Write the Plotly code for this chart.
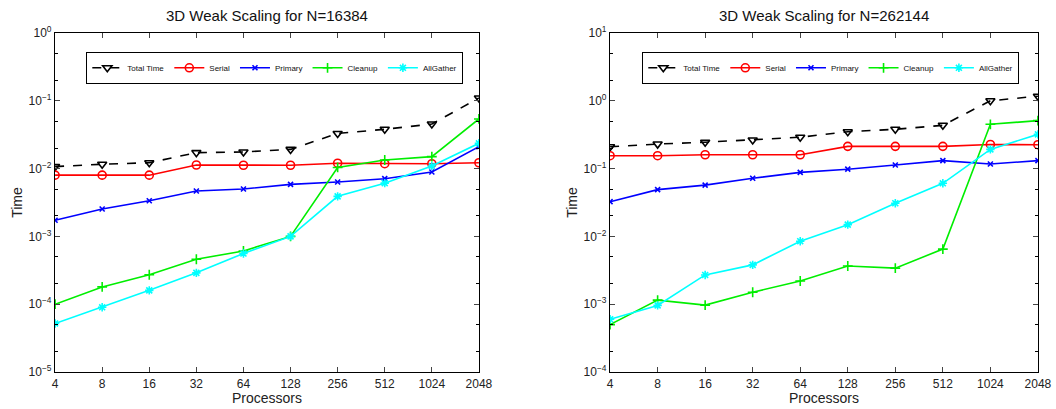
import plotly.graph_objects as go

procs = [4, 8, 16, 32, 64, 128, 256, 512, 1024, 2048]
series_names = ["Total Time", "Serial", "Primary", "Cleanup", "AllGather"]

# N=16384
left_total = [0.0107, 0.0116, 0.0122, 0.0172, 0.0176, 0.0192, 0.033, 0.038, 0.0455, 0.11]
left_serial = [0.0080, 0.0080, 0.0080, 0.0113, 0.0112, 0.0112, 0.0120, 0.0118, 0.0118, 0.0122]
left_primary = [0.00173, 0.00254, 0.00336, 0.00468, 0.0050, 0.00586, 0.00634, 0.0071, 0.0089, 0.021]
left_cleanup = [1.0e-4, 1.8e-4, 2.72e-4, 4.6e-4, 6.1e-4, 1.0e-3, 0.0104, 0.0134, 0.015, 0.054]
left_allgather = [5.2e-5, 9.0e-5, 1.6e-4, 2.9e-4, 5.6e-4, 1.0e-3, 0.0039, 0.0061, 0.0109, 0.0236]

# N=262144
right_total = [0.21, 0.23, 0.245, 0.264, 0.29, 0.35, 0.38, 0.435, 1.0, 1.17]
right_serial = [0.155, 0.155, 0.16, 0.16, 0.16, 0.213, 0.213, 0.213, 0.227, 0.225]
right_primary = [0.0325, 0.049, 0.057, 0.072, 0.088, 0.098, 0.113, 0.131, 0.117, 0.131]
right_cleanup = [5.0e-4, 1.15e-3, 9.7e-4, 1.5e-3, 2.2e-3, 3.66e-3, 3.4e-3, 6.5e-3, 0.45, 0.51]
right_allgather = [6.0e-4, 9.6e-4, 2.7e-3, 3.8e-3, 8.5e-3, 0.0149, 0.0308, 0.0607, 0.192, 0.32]

titles = ["3D Weak Scaling for N=16384", "3D Weak Scaling for N=262144"]
left_decades = [-5, -4, -3, -2, -1, 0]
right_decades = [-4, -3, -2, -1, 0, 1]

styles = [
    dict(color="#000000", dash="dash", symbol="triangle-down-open", size=8),
    dict(color="#ff0000", dash="solid", symbol="circle-open", size=8),
    dict(color="#0000ff", dash="solid", symbol="x-thin", size=5),
    dict(color="#00ee00", dash="solid", symbol="cross-thin", size=7),
    dict(color="#00ffff", dash="solid", symbol="asterisk-open", size=7),
]

fig = go.Figure()
FONT = "Liberation Sans, Arial, sans-serif"

data_sets = [
    [left_total, left_serial, left_primary, left_cleanup, left_allgather],
    [right_total, right_serial, right_primary, right_cleanup, right_allgather],
]
for p, ds in enumerate(data_sets):
    xa = "x" if p == 0 else "x2"
    ya = "y" if p == 0 else "y2"
    lg = "legend" if p == 0 else "legend2"
    for name, vals, st in zip(series_names, ds, styles):
        fig.add_trace(go.Scatter(
            x=procs, y=vals, name=name, mode="lines+markers",
            xaxis=xa, yaxis=ya, legend=lg,
            line=dict(color=st["color"], width=1.6, dash=st["dash"]),
            marker=dict(symbol=st["symbol"], size=st["size"], color=st["color"],
                        line=dict(color=st["color"], width=1.6)),
        ))

W, H = 1056, 409
def px_x(v):
    return v / W
def px_y(v):
    return 1 - v / H

doms_x = [[px_x(55), px_x(479)], [px_x(610), px_x(1038)]]
dom_y = [px_y(372), px_y(33)]

def sup(d):
    s = str(d).replace("-", "\u2212")
    return "10<sup>" + s + "</sup>"

common_x = dict(type="log", tickvals=procs, ticktext=[str(p) for p in procs],
                ticks="inside", ticklen=5, mirror="allticks", showline=True,
                linecolor="black", linewidth=1.2, showgrid=False, zeroline=False,
                automargin=False,
                tickfont=dict(size=12, color="#222", family=FONT),
                range=[0.60206 - 0.0005, 3.31133 + 0.0005],
                title=dict(text="Processors", font=dict(size=14, color="#222", family=FONT), standoff=0))

for i, (decs, title) in enumerate(zip([left_decades, right_decades], titles)):
    suffix = "" if i == 0 else "2"
    xa = dict(common_x, domain=doms_x[i], anchor="y" + suffix)
    ya = dict(type="log", domain=dom_y, anchor="x" + suffix,
              range=[decs[0], decs[-1]], tickvals=[10 ** d for d in decs],
              ticktext=[sup(d) for d in decs], ticks="inside", ticklen=5,
              mirror="allticks", showline=True, linecolor="black", linewidth=1.2,
              showgrid=False, zeroline=False, automargin=False,
              tickfont=dict(size=12, color="#222", family=FONT),
              minor=dict(ticks="inside", ticklen=3, showgrid=False,
                         tickcolor="black"),
              title=dict(text="Time", font=dict(size=14, color="#222", family=FONT), standoff=2))
    fig.layout["xaxis" + suffix] = xa
    fig.layout["yaxis" + suffix] = ya
    cx = (doms_x[i][0] + doms_x[i][1]) / 2
    fig.add_annotation(text=title, x=cx, y=px_y(16), xref="paper", yref="paper",
                       showarrow=False, font=dict(size=15, color="#111", family=FONT),
                       xanchor="center", yanchor="middle")

legend_common = dict(orientation="h", bgcolor="white", bordercolor="black", borderwidth=1.3,
                     font=dict(size=8, color="#111", family=FONT),
                     xanchor="left", yanchor="top", itemwidth=30, tracegroupgap=0,
                     itemclick=False)
fig.update_layout(
    width=W, height=H, margin=dict(l=0, r=0, t=0, b=0),
    paper_bgcolor="white", plot_bgcolor="white",
    legend=dict(legend_common, x=px_x(86), y=px_y(52)),
    legend2=dict(legend_common, x=px_x(642), y=px_y(52)),
)

fig.write_html("out.html")
